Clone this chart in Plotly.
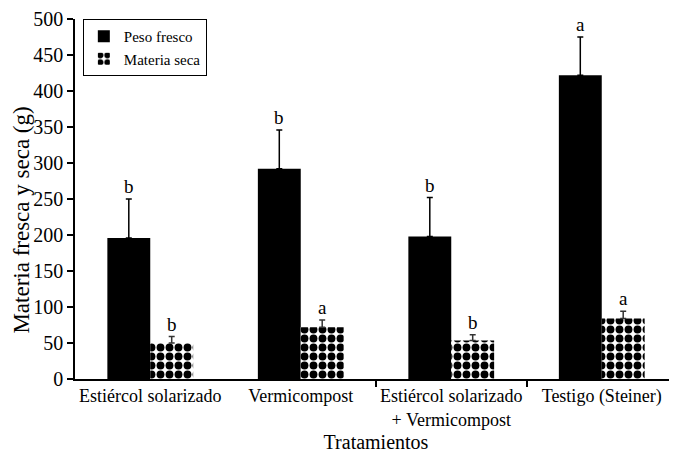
import plotly.graph_objects as go

categories = ["Estiércol solarizado", "Vermicompost",
              "Estiércol solarizado<br>+ Vermicompost", "Testigo (Steiner)"]
peso_fresco = [196, 292, 198, 422]
peso_fresco_err = [54, 54, 54, 53]
materia_seca = [50, 72, 53.5, 84]
materia_seca_err = [9, 10, 8, 10]
letras_fresco = ["b", "b", "b", "a"]
letras_seca = ["b", "a", "b", "a"]
yticks = [0, 50, 100, 150, 200, 250, 300, 350, 400, 450, 500]

FONT = "Liberation Serif, Times New Roman, Times, serif"
W = 0.285
xs = list(range(len(categories)))

fig = go.Figure()
fig.add_trace(go.Bar(
    x=xs, y=peso_fresco, width=W, offset=-W, name="Peso fresco",
    marker=dict(color="black", line=dict(width=0)),
    error_y=dict(type="data", array=peso_fresco_err, arrayminus=[0]*4,
                 symmetric=False, color="black", thickness=1.5, width=3),
))
fig.add_trace(go.Bar(
    x=xs, y=materia_seca, width=W, offset=0, name="Materia seca",
    marker=dict(color="white", line=dict(width=0),
                pattern=dict(shape=".", fgcolor="black", bgcolor="white",
                             size=9, solidity=0.6, fillmode="replace")),
    error_y=dict(type="data", array=materia_seca_err, arrayminus=[0]*4,
                 symmetric=False, color="#333333", thickness=1.5, width=3),
))
# invisible trace for divider ticks axis
fig.add_trace(go.Scatter(x=[1.5, 2.5], y=[0, 0], xaxis="x2", mode="markers",
                         marker=dict(opacity=0), showlegend=False, hoverinfo="skip"))

for i in xs:
    fig.add_annotation(x=i - W/2, y=peso_fresco[i] + peso_fresco_err[i],
                       text=letras_fresco[i], showarrow=False, yanchor="bottom",
                       yshift=0, font=dict(family=FONT, size=19, color="black"))
    fig.add_annotation(x=i + W/2, y=materia_seca[i] + materia_seca_err[i],
                       text=letras_seca[i], showarrow=False, yanchor="bottom",
                       yshift=0, font=dict(family=FONT, size=19, color="black"))

# y-axis title as annotation (sits slightly below the plot centre in the reference)
fig.add_annotation(xref="paper", yref="paper", x=-0.088, y=0.44,
                   text="Materia fresca y seca (g)", textangle=-90,
                   showarrow=False, xanchor="center", yanchor="middle",
                   borderpad=0,
                   font=dict(family=FONT, size=23, color="black"))

# page body adds an 8px margin, so figure is 8px smaller with margins reduced
fig.update_layout(
    width=669, height=445,
    margin=dict(l=67, r=0, t=11, b=73.5),
    paper_bgcolor="white", plot_bgcolor="white",
    font=dict(family=FONT, color="black"),
    barmode="overlay",
    showlegend=True,
    legend=dict(x=0.013, y=1, xanchor="left", yanchor="top",
                bordercolor="black", borderwidth=1, bgcolor="white",
                font=dict(family=FONT, size=15), tracegroupgap=0,
                itemwidth=30),
    xaxis=dict(range=[-0.5, 3.5], tickmode="array", tickvals=xs,
               ticktext=categories, ticks="", showline=True, linecolor="black",
               linewidth=1.5, showgrid=False, zeroline=False, automargin=False,
               tickfont=dict(family=FONT, size=18),
               title=dict(text="Tratamientos", font=dict(family=FONT, size=20),
                          standoff=6)),
    xaxis2=dict(range=[-0.5, 3.5], overlaying="x", anchor="y", side="bottom",
                tickmode="array", tickvals=[1.5, 2.5], ticktext=["", ""],
                ticks="outside", ticklen=7, tickwidth=1.5, tickcolor="black",
                showline=False, showgrid=False, zeroline=False, automargin=False),
    yaxis=dict(range=[0, 500], tickmode="array", tickvals=yticks,
               ticks="outside", ticklen=6, tickwidth=1.5, tickcolor="black",
               showline=True, linecolor="black", linewidth=1.5,
               showgrid=False, zeroline=False, automargin=False,
               tickfont=dict(family=FONT, size=20)),
)

fig.write_html("out.html")
